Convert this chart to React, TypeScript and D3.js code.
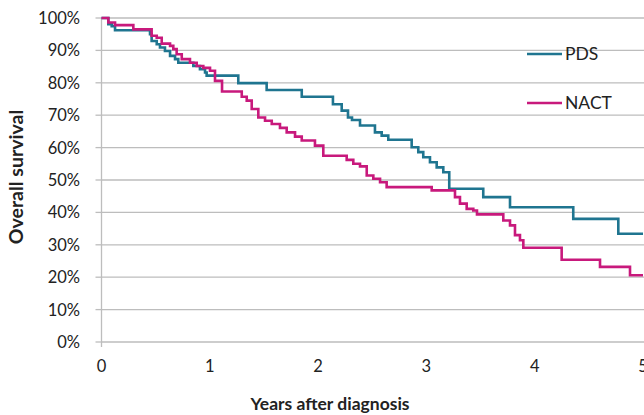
import React from "react";
import * as d3 from "d3";

// Kaplan-Meier style step curves
const pdsYears = [0, 0.063, 0.094, 0.125, 0.448, 0.463, 0.51, 0.54, 0.586, 0.633, 0.679, 0.709, 0.848, 0.909, 0.956, 0.971, 1.263, 1.525, 1.849, 2.137, 2.218, 2.276, 2.313, 2.387, 2.525, 2.587, 2.648, 2.864, 2.925, 2.971, 3.033, 3.095, 3.156, 3.211, 3.525, 3.772, 4.356, 4.772, 5];
const pdsSurvival = [100, 98.1, 97.5, 96.2, 95.0, 92.9, 91.9, 90.9, 89.8, 88.3, 87.3, 86.2, 85.2, 84.2, 83.2, 82.2, 79.9, 77.8, 75.7, 73.4, 71.4, 69.3, 68.5, 66.8, 64.7, 63.7, 62.4, 60.1, 58.6, 57.0, 55.5, 53.9, 52.4, 47.3, 44.7, 41.6, 38.0, 33.4, 33.4];

const nactYears = [0, 0.063, 0.125, 0.294, 0.463, 0.51, 0.556, 0.633, 0.663, 0.694, 0.741, 0.817, 0.879, 0.94, 1.002, 1.048, 1.113, 1.295, 1.341, 1.387, 1.448, 1.51, 1.572, 1.648, 1.71, 1.787, 1.849, 1.971, 2.048, 2.264, 2.325, 2.387, 2.449, 2.51, 2.572, 2.633, 3.049, 3.264, 3.31, 3.372, 3.433, 3.467, 3.71, 3.772, 3.818, 3.864, 3.895, 4.249, 4.603, 4.88, 5];
const nactSurvival = [100, 98.6, 97.8, 96.5, 94.5, 93.9, 92.1, 91.4, 90.4, 88.8, 87.3, 86.2, 85.2, 84.6, 83.7, 80.6, 77.3, 75.7, 74.5, 71.9, 69.3, 68.3, 67.3, 66.1, 64.7, 63.4, 62.2, 60.6, 57.5, 56.2, 55.0, 54.2, 51.4, 50.4, 49.3, 47.8, 46.8, 44.7, 42.7, 41.1, 40.6, 39.4, 37.5, 36.0, 33.0, 31.4, 29.1, 25.4, 23.2, 20.6, 20.6];

const seriesNames = ["PDS", "NACT"];
const seriesColors = ["#1f7590", "#c8197c"];
const yTicks = [0, 10, 20, 30, 40, 50, 60, 70, 80, 90, 100];
const xTicks = [0, 1, 2, 3, 4, 5];

const W = 644;
const H = 415;
const font = "Lato, 'Noto Sans', sans-serif";

export default function App() {
  const x = d3.scaleLinear().domain([0, 5]).range([101.5, 643]);
  const y = d3.scaleLinear().domain([0, 100]).range([342, 18]);

  const line = d3
    .line<[number, number]>()
    .x((d) => x(d[0]))
    .y((d) => y(d[1]))
    .curve(d3.curveStepAfter);

  const series = [
    pdsYears.map((t, i) => [t, pdsSurvival[i]] as [number, number]),
    nactYears.map((t, i) => [t, nactSurvival[i]] as [number, number]),
  ];

  return (
    <svg
      width={W}
      height={H}
      style={{ position: "absolute", left: 0, top: 0, background: "#fff" }}
      fontFamily={font}
    >
      {/* gridlines */}
      {yTicks.map((t) => (
        <line key={"g" + t} x1={x(0)} x2={W} y1={y(t)} y2={y(t)} stroke="#bdbdbd" strokeWidth={1.3} />
      ))}
      {/* y axis line and ticks */}
      <line x1={x(0)} x2={x(0)} y1={y(100)} y2={y(0) + 5} stroke="#bdbdbd" strokeWidth={1.3} />
      {yTicks.map((t) => (
        <g key={"yt" + t}>
          <line x1={x(0) - 6} x2={x(0)} y1={y(t)} y2={y(t)} stroke="#bdbdbd" strokeWidth={1.3} />
          <text x={80} y={y(t)} dy="0.36em" textAnchor="end" fontSize={16.5} fill="#222">
            {t + "%"}
          </text>
        </g>
      ))}
      {xTicks.map((t) => (
        <text key={"xt" + t} x={x(t)} y={366} dy="0.36em" textAnchor="middle" fontSize={16.5} fill="#222">
          {t}
        </text>
      ))}

      {/* curves */}
      {series.map((s, i) => (
        <path key={seriesNames[i]} d={line(s) || ""} fill="none" stroke={seriesColors[i]} strokeWidth={2.6} />
      ))}

      {/* legend */}
      {seriesNames.map((n, i) => (
        <g key={"lg" + n} transform={`translate(527,${54 + i * 49})`}>
          <line x1={0} x2={35} y1={0} y2={0} stroke={seriesColors[i]} strokeWidth={2.6} />
          <text x={38} y={0} dy="0.36em" fontSize={17.5} fill="#222">
            {n}
          </text>
        </g>
      ))}

      {/* axis titles */}
      <text x={330} y={404} dy="0.36em" textAnchor="middle" fontSize={17.5} fontWeight="bold" fill="#222">
        Years after diagnosis
      </text>
      <text
        transform={`translate(16,177) rotate(-90)`}
        dy="0.36em"
        textAnchor="middle"
        fontSize={19.5}
        fontWeight="bold"
        fill="#222"
      >
        Overall survival
      </text>
    </svg>
  );
}
